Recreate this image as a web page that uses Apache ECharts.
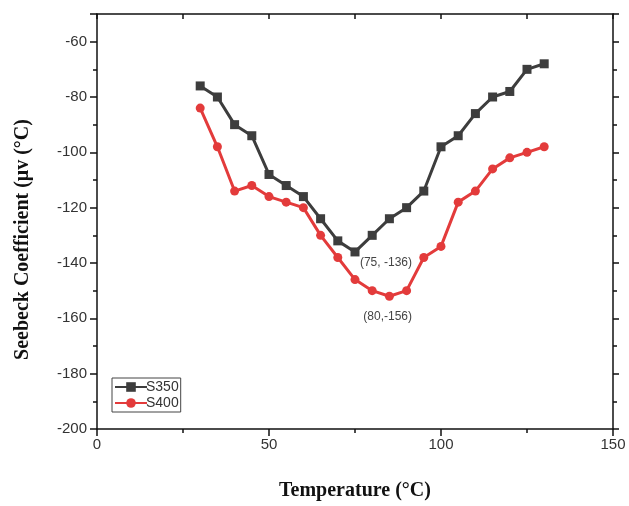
<!DOCTYPE html>
<html>
<head>
<meta charset="utf-8">
<script src="https://cdn.jsdelivr.net/npm/echarts@6/dist/echarts.min.js"></script>
<style>
  html, body { margin: 0; padding: 0; background: #fff; }
  #chart { width: 629px; height: 506px; }
</style>
</head>
<body>
<div id="chart"></div>
<script>
// temperatures (°C)
var temps = [30, 35, 40, 45, 50, 55, 60, 65, 70, 75, 80, 85, 90, 95, 100, 105, 110, 115, 120, 125, 130];
// Seebeck coefficient values
var s350 = [-76, -80, -90, -94, -108, -112, -116, -124, -132, -136, -130, -124, -120, -114, -98, -94, -86, -80, -78, -70, -68];
var s400 = [-84, -98, -114, -112, -116, -118, -120, -130, -138, -146, -150, -152, -150, -138, -134, -118, -114, -106, -102, -100, -98];
var notes = [
  { text: '(75, -136)', at: [84, -140] },
  { text: '(80,-156)', at: [84.5, -159.5] }
];

function pairs(xs, ys) {
  return xs.map(function (x, i) { return [x, ys[i]]; });
}

var chartDom = document.getElementById('chart');
var myChart = echarts.init(chartDom);
var option;

var tickFont = { fontFamily: 'Liberation Sans', fontSize: 15, color: '#333' };
var frameLine = { show: true, onZero: false, lineStyle: { color: '#111', width: 1.5 } };

option = {
  backgroundColor: '#fff',
  animation: false,
  grid: { left: 97, right: 16, top: 14, bottom: 74 },
  legend: {
    left: 112,
    top: 378,
    orient: 'vertical',
    borderColor: '#444',
    borderWidth: 1,
    padding: [2, 2, 2, 2],
    itemGap: 2,
    itemWidth: 32,
    itemHeight: 12,
    textStyle: { fontFamily: 'Liberation Sans', fontSize: 14, color: '#333', padding: [0, 0, 0, -6] },
    data: ['S350', 'S400']
  },
  xAxis: [
    {
      type: 'value',
      min: 0, max: 150, interval: 50,
      name: 'Temperature (°C)',
      nameLocation: 'middle',
      nameGap: 52,
      nameTextStyle: { fontFamily: 'Liberation Serif', fontWeight: 'bold', fontSize: 20, color: '#111' },
      axisLine: frameLine,
      axisTick: { show: true, inside: false, length: 7, lineStyle: { color: '#111', width: 1.5 } },
      minorTick: { show: true, splitNumber: 2, length: 4, lineStyle: { color: '#111', width: 1.5 } },
      axisLabel: tickFont,
      splitLine: { show: false }
    },
    {
      type: 'value',
      position: 'top',
      min: 0, max: 150, interval: 50,
      axisLine: frameLine,
      axisTick: { show: true, inside: true, length: 5, lineStyle: { color: '#111', width: 1.5 } },
      minorTick: { show: true, splitNumber: 2, length: 5, lineStyle: { color: '#111', width: 1.5 } },
      axisLabel: { show: false },
      splitLine: { show: false }
    }
  ],
  yAxis: [
    {
      type: 'value',
      min: -200, max: -50, interval: 20,
      name: 'Seebeck Coefficient (μv (°C)',
      nameLocation: 'middle',
      nameGap: 64,
      nameTextStyle: { fontFamily: 'Liberation Serif', fontWeight: 'bold', fontSize: 20, color: '#111', padding: [0, 36, 0, 0] },
      axisLine: frameLine,
      axisTick: { show: true, inside: false, length: 7, lineStyle: { color: '#111', width: 1.5 } },
      minorTick: { show: true, splitNumber: 2, length: 4, lineStyle: { color: '#111', width: 1.5 } },
      axisLabel: Object.assign({ showMaxLabel: false, margin: 10 }, tickFont),
      splitLine: { show: false }
    },
    {
      type: 'value',
      position: 'right',
      min: -200, max: -50, interval: 20,
      axisLine: frameLine,
      axisTick: { show: true, inside: false, length: 6, lineStyle: { color: '#111', width: 1.5 } },
      minorTick: { show: true, splitNumber: 2, length: 4, lineStyle: { color: '#111', width: 1.5 } },
      axisLabel: { show: false },
      splitLine: { show: false }
    }
  ],
  series: [
    {
      name: 'S350',
      type: 'line',
      data: pairs(temps, s350),
      symbol: 'rect',
      symbolSize: 9,
      lineStyle: { color: '#3d3d3d', width: 3 },
      itemStyle: { color: '#3d3d3d' },
      z: 3,
      markPoint: {
        symbol: 'circle',
        symbolSize: 0,
        label: { show: true, position: 'inside', fontFamily: 'Liberation Sans', fontSize: 12, color: '#444' },
        data: notes.map(function (n) {
          return { coord: n.at, label: { formatter: n.text } };
        })
      }
    },
    {
      name: 'S400',
      type: 'line',
      data: pairs(temps, s400),
      symbol: 'circle',
      symbolSize: 9,
      lineStyle: { color: '#e33b3b', width: 3 },
      itemStyle: { color: '#e33b3b' },
      z: 2
    }
  ]
};

option && myChart.setOption(option);
window.addEventListener('resize', function () { myChart.resize(); });
</script>
</body>
</html>
